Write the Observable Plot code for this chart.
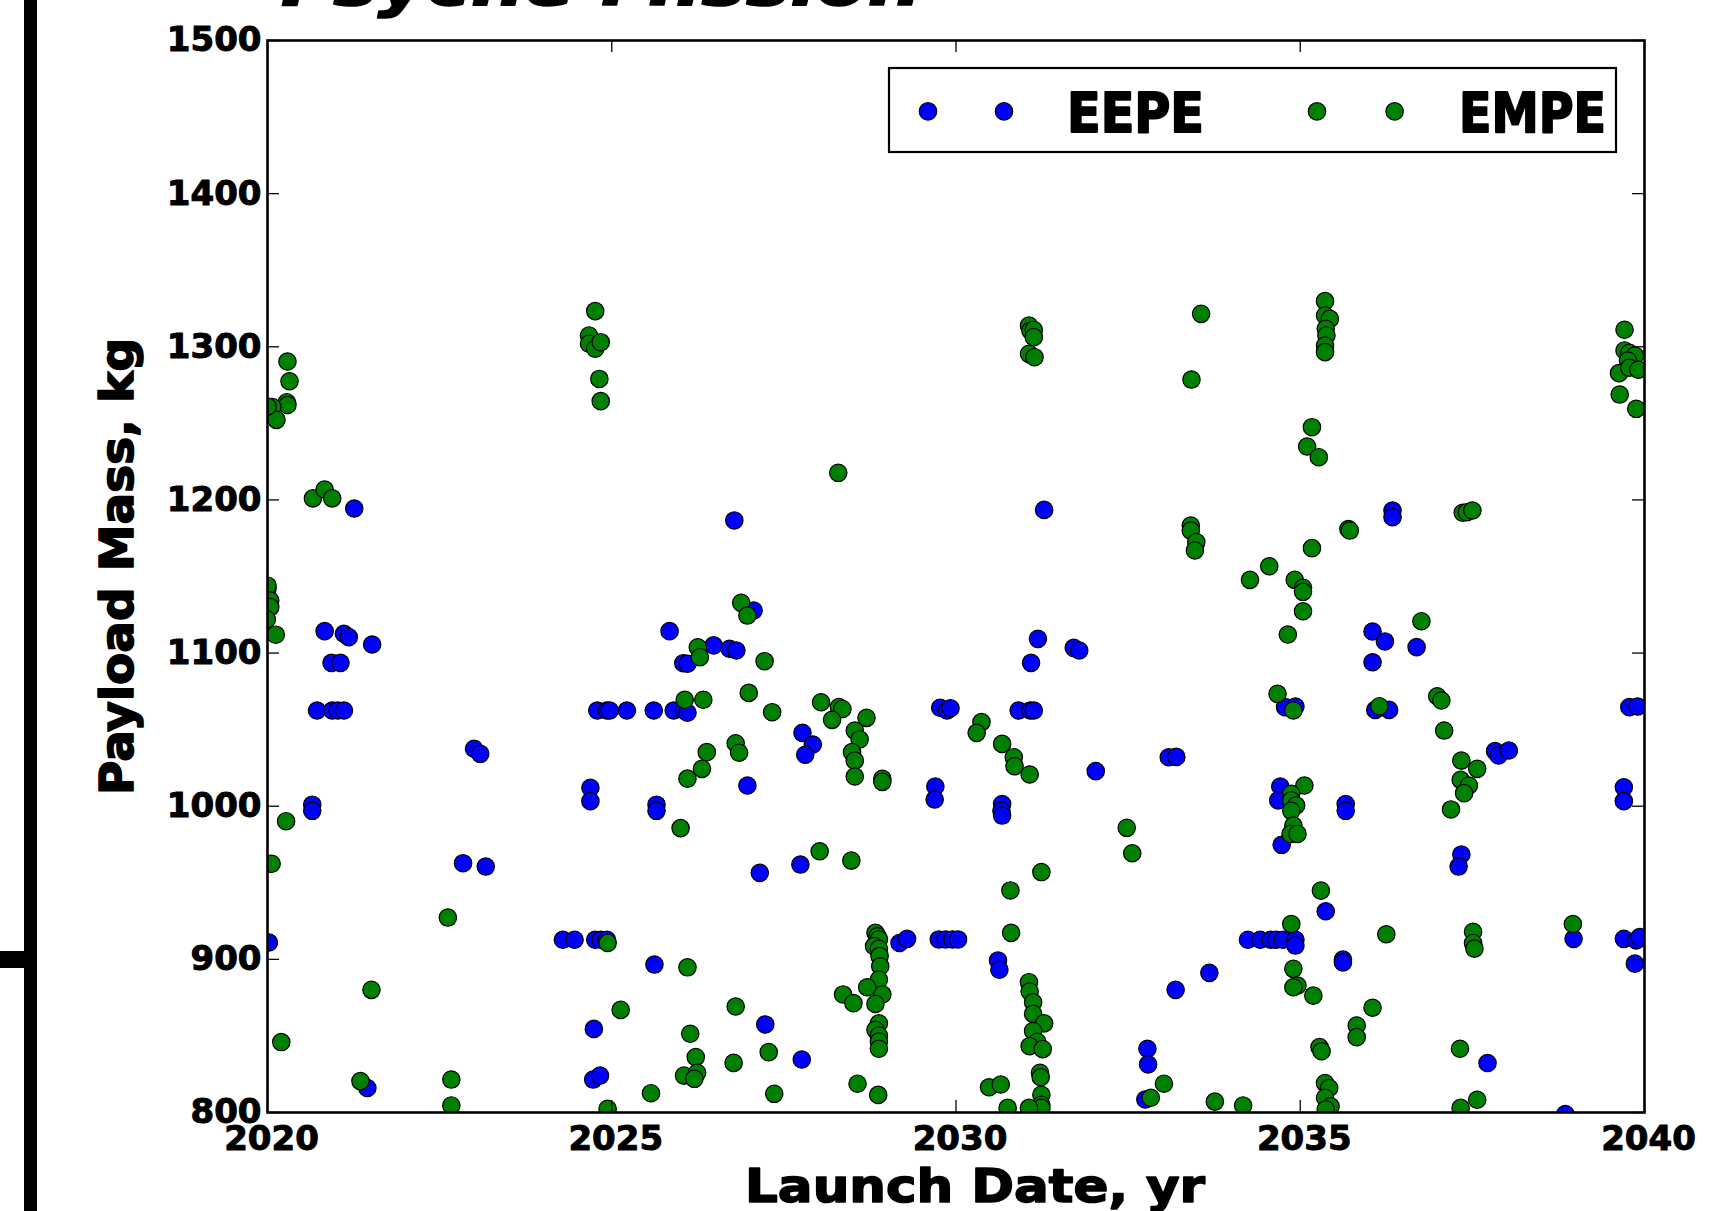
<!DOCTYPE html>
<html><head><meta charset="utf-8">
<script src="https://cdn.jsdelivr.net/npm/d3@7"></script>
<script src="https://cdn.jsdelivr.net/npm/@observablehq/plot@0.6"></script>
<style>
html,body{margin:0;padding:0;background:#fff;overflow:hidden}
#wrap{position:relative;width:1730px;height:1211px;overflow:hidden;background:#fff}
#wrap > svg{position:absolute;left:0;top:0}
</style></head><body><div id="wrap"></div>
<script>
// ---- data ----
const seriesNames = ["EEPE", "EMPE"];
const seriesColors = ["#0000ff", "#008000"];
const xTicks = [2020, 2025, 2030, 2035, 2040];
const yTicks = [800, 900, 1000, 1100, 1200, 1300, 1400, 1500];
const titleText = "Psyche Mission";
const xLabel = "Launch Date, yr";
const yLabel = "Payload Mass, kg";

const eepeYear = [
  2020.00, 2020.02, 2020.65, 2020.65, 2020.72, 2020.94, 2021.02, 2021.11, 2020.83, 2021.11, 2021.18, 2021.52,
  2020.93, 2021.06, 2021.26, 2021.45, 2022.84, 2023.17, 2023.00, 2023.09,
  2024.29, 2024.46, 2024.76, 2024.84, 2024.93, 2024.69, 2024.69, 2024.74, 2024.73, 2024.83,
  2024.79, 2024.93, 2024.97, 2025.22, 2025.61, 2025.90, 2026.05, 2026.10,
  2025.65, 2025.65, 2025.62, 2025.84, 2026.04, 2026.10, 2026.48, 2026.71, 2026.81, 2026.78, 2027.06, 2026.97,
  2027.15, 2027.23, 2027.77, 2027.92, 2027.81, 2027.74, 2027.76, 2029.18, 2029.29,
  2029.75, 2029.85, 2029.95, 2030.03, 2029.70, 2029.69, 2029.77, 2029.87, 2029.92,
  2030.61, 2030.63, 2030.67, 2030.66, 2030.67, 2030.91, 2031.08, 2031.13, 2031.09, 2031.19, 2031.28,
  2031.71, 2031.79, 2032.03, 2033.09, 2033.20, 2032.78, 2032.79, 2032.75, 2033.19, 2033.68,
  2034.24, 2034.42, 2034.57, 2034.65, 2034.75, 2034.93, 2034.93, 2034.71, 2034.68, 2034.73, 2034.78, 2034.93,
  2035.37, 2035.62, 2035.62, 2035.66, 2035.66, 2036.05, 2036.23, 2036.05, 2036.09, 2036.29, 2036.34, 2036.34, 2036.69,
  2037.34, 2037.30, 2037.83, 2037.88, 2038.03, 2037.72, 2038.97, 2038.85,
  2039.70, 2039.70, 2039.78, 2039.90, 2039.70, 2039.88, 2039.93, 2039.86
];
const eepeMass = [
  1142, 911, 1001, 997, 1062.5, 1062.5, 1062.5, 1062.5, 1114.3, 1112.6, 1110.4, 1105.6,
  1093.6, 1093.6, 1194.4, 816, 962.8, 960.6, 1037.5, 1034.2,
  912.8, 912.8, 912.8, 912.8, 912.8, 1012, 1003.3, 854.6, 821.5, 824.1,
  1062.5, 1062.5, 1062.5, 1062.5, 1062.5, 1062.5, 1062.5, 1061,
  1001, 997, 896.6, 1114.3, 1093.4, 1093, 1105, 1102.8, 1101.7, 1186.6, 1127.8, 1013.5,
  956.5, 857.5, 1047.9, 1040.3, 1033.6, 961.9, 834.6, 910.7, 913.4,
  913, 913, 913, 913, 1012.9, 1004.4, 1064.3, 1062.5, 1064,
  899.3, 893.2, 1001.4, 997, 993.9, 1062.5, 1062.5, 1062.5, 1093.6, 1109.3, 1193.5,
  1103.4, 1101.7, 1022.9, 1032, 1032.2, 841.6, 831.4, 808.5, 880.1, 891.2,
  912.8, 912.8, 912.8, 912.8, 912.8, 912.8, 909, 1012.9, 1003.8, 974.8, 1064.7, 1065.1,
  931.4, 899.8, 898, 1001.4, 997, 1114.1, 1107.6, 1094, 1062.9, 1062.9, 1193.1, 1188.7, 1103.9,
  968.5, 960.6, 1036, 1033.1, 1036.4, 832.3, 913.4, 799,
  1012.4, 1003.3, 1064.7, 1065.1, 913.4, 912.3, 914.5, 897.2
];

const empeYear = [
  2020.29, 2020.32, 2020.28, 2020.29, 2020.07, 2020.13, 2020.00,
  2020.66, 2020.83, 2020.94,
  2020.00, 2020.04, 2020.04, 2020.12, 2019.99,
  2020.27, 2020.06, 2020.20, 2021.51, 2021.35,
  2022.62, 2022.67, 2022.67,
  2024.76, 2024.67, 2024.67, 2024.76, 2024.84, 2024.82, 2024.84,
  2024.94, 2024.94, 2025.13, 2025.57, 2026.00,
  2026.06, 2026.33, 2026.25, 2026.28,
  2026.38, 2026.31, 2026.10,
  2026.10, 2026.14, 2026.22, 2026.05, 2026.24, 2026.20,
  2026.80, 2026.85, 2026.88, 2026.97, 2027.22, 2026.99, 2027.33,
  2026.80, 2026.77, 2027.28, 2027.36,
  2028.04, 2028.30, 2028.35, 2028.20, 2028.70,
  2028.53, 2028.60, 2028.49, 2028.53, 2028.53, 2028.93, 2028.93,
  2028.29, 2028.02, 2028.48, 2028.36, 2028.51,
  2028.83, 2028.86, 2028.88, 2028.81, 2028.88, 2028.89, 2028.90, 2028.88, 2028.93, 2028.71, 2028.83, 2028.88, 2028.83, 2028.88, 2028.88, 2028.88,
  2028.57, 2028.87,
  2030.37, 2030.30, 2030.67, 2030.84, 2030.85, 2031.07,
  2031.06, 2031.08, 2031.13, 2031.13, 2031.06, 2031.14,
  2031.24, 2030.79, 2030.80,
  2031.06, 2031.07, 2031.12, 2031.12, 2031.28, 2031.12, 2031.18, 2031.07, 2031.26, 2031.22, 2031.23, 2031.24, 2031.24, 2031.24, 2031.06, 2030.75,
  2030.48, 2030.65, 2032.48, 2032.56, 2033.02, 2032.83,
  2033.56, 2033.42, 2033.41, 2033.41, 2033.49, 2033.47, 2033.76, 2034.17,
  2035.36, 2035.36, 2035.43, 2035.37, 2035.38, 2035.36, 2035.36,
  2035.17, 2035.10, 2035.27, 2035.70, 2035.72, 2035.17,
  2034.55, 2034.27, 2034.92, 2035.04, 2035.04, 2035.04, 2034.82, 2036.76,
  2037.36, 2037.42, 2037.50, 2034.67, 2034.90, 2036.15, 2036.99, 2037.05, 2037.09,
  2037.34, 2037.57, 2037.33, 2037.45, 2037.38, 2037.19,
  2035.06, 2034.87, 2034.87, 2034.94, 2034.87, 2034.90, 2034.86, 2034.96,
  2035.30, 2034.87, 2036.25, 2037.51, 2037.51, 2037.53, 2038.96,
  2034.90, 2034.96, 2034.90, 2035.19, 2036.05, 2035.82, 2035.82, 2035.28, 2035.31, 2037.32,
  2035.36, 2035.42, 2035.36, 2035.44, 2035.37, 2037.57, 2037.33,
  2039.71, 2039.71, 2039.78, 2039.86, 2039.76, 2039.63, 2039.78, 2039.91, 2039.64, 2039.88
];
const empeMass = [
  1290.4, 1277.5, 1263.8, 1262, 1260.6, 1252.3, 1261,
  1201, 1206.8, 1201,
  1144, 1134.3, 1130, 1112, 1122,
  990.2, 962.4, 846, 880.1, 820.5,
  927.3, 821.5, 804.6,
  1323.3, 1307.4, 1302, 1298.7, 1303, 1279, 1264.5,
  910.7, 802.4, 867, 812.6, 985.7,
  1069.5, 1069.5, 1103.8, 1097.3,
  1035.3, 1024.4, 1018,
  894.8, 851.4, 836.2, 824.1, 825.9, 822,
  1041.1, 1034.9, 1132.8, 1124.5, 1094.7, 1074, 1061.4,
  869.2, 832.4, 839.4, 812.2,
  1067.9, 1064.7, 1063.5, 1056.4, 1057.7,
  1049.4, 1043.6, 1035.3, 1029.8, 1019.4, 1017.9, 1015.9,
  1217.7, 970.6, 964.5, 877.1, 871.4,
  917.3, 915.1, 913, 908.6, 906.9, 902.1, 895.5, 886.8, 877.1, 881.8, 870.9, 858.2, 854, 850.3, 846.3, 841.6,
  818.8, 811.5,
  1054.9, 1047.9, 1040.7, 1032, 1026.1, 1020.7,
  1313.9, 1310.6, 1311, 1306.3, 1295.4, 1293.2,
  957, 945, 917.3,
  885.1, 879, 872, 864.4, 858.2, 853.2, 846.2, 843.3, 841.4, 825.9, 823, 811.6, 805, 803, 803, 803,
  816.5, 818.3, 985.9, 969.3, 818.8, 809.6,
  1321.5, 1278.6, 1183.3, 1180, 1172.4, 1167, 807.1, 804.6,
  1329.8, 1320.4, 1318.2, 1311.7, 1307.4, 1300.8, 1296.5,
  1247.5, 1234.9, 1227.9, 1181, 1180, 1168.5,
  1156.7, 1147.8, 1147.8, 1142.6, 1140, 1127.3, 1112.1, 1120.8,
  1191.6, 1192, 1193.1, 1073.4, 1062.5, 1065.3, 1071.8, 1069, 1049.4,
  1029.8, 1024.4, 1017.2, 1013.5, 1008.5, 997.9,
  1013.5, 1008.1, 1003.8, 1000.5, 997, 987.4, 981.9, 981.9,
  944.9, 923.1, 916.4, 918, 910.7, 907, 923.1,
  893.8, 882.9, 881.8, 876.3, 868.4, 856.8, 849.2, 842.7, 840, 841.6,
  819.2, 816, 809.6, 804, 802, 808.3, 803,
  1311.1, 1297.6, 1296, 1294.3, 1291, 1282.8, 1286.3, 1285, 1268.8, 1259.5
];

// ---- build table ----
const eepe = eepeYear.map((x, i) => ({year: x, mass: eepeMass[i], series: seriesNames[0]}));
const empe = empeYear.map((x, i) => ({year: x, mass: empeMass[i], series: seriesNames[1]}));

const W = 1730, H = 1211;
const mL = 267, mR = 86, mT = 40, mB = 99;
const innerW = W - mL - mR, innerH = H - mT - mB;
const tickLen = 12;

const chart = Plot.plot({
  width: W, height: H,
  marginLeft: mL, marginRight: mR, marginTop: mT, marginBottom: mB,
  style: {fontFamily: "'DejaVu Sans', sans-serif", fontWeight: "bold", fontSize: "34px", color: "#000", background: "transparent", overflow: "visible"},
  x: {domain: [2020, 2040], label: null},
  y: {domain: [800, 1500], label: null},
  color: {domain: seriesNames, range: seriesColors},
  marks: [
    Plot.dot(eepe, {x: "year", y: "mass", r: 8.7, fill: "series", stroke: "#000", strokeWidth: 1.2, clip: true}),
    Plot.dot(empe, {x: "year", y: "mass", r: 8.7, fill: "series", stroke: "#000", strokeWidth: 1.2, clip: true}),
    Plot.ruleX(xTicks, {x: d => d, insetBottom: innerH - tickLen, stroke: "#000", strokeWidth: 1.3}),
    Plot.ruleX(xTicks, {x: d => d, insetTop: innerH - tickLen, stroke: "#000", strokeWidth: 1.3}),
    Plot.ruleY(yTicks, {y: d => d, insetRight: innerW - tickLen, stroke: "#000", strokeWidth: 1.3}),
    Plot.ruleY(yTicks, {y: d => d, insetLeft: innerW - tickLen, stroke: "#000", strokeWidth: 1.3}),
    Plot.frame({stroke: "#000", strokeWidth: 2.6}),
    Plot.axisX({ticks: xTicks, tickSize: 0, tickPadding: 13, tickFormat: d => String(d), label: null, dx: 4}),
    Plot.axisY({ticks: yTicks, tickSize: 0, tickPadding: 6, tickFormat: d => String(d), label: null})
  ]
});
// make the tick labels a little heavier, like the reference
chart.querySelectorAll("g[aria-label$='tick label'] text").forEach(t => {
  t.setAttribute("stroke", "#000");
  t.setAttribute("stroke-width", "1");
  t.setAttribute("stroke-linejoin", "round");
});
const wrap = document.getElementById("wrap");
wrap.appendChild(chart);

// ---- overlay: title, axis labels, legend, neighbour border fragments ----
const ns = "http://www.w3.org/2000/svg";
const ov = document.createElementNS(ns, "svg");
ov.setAttribute("width", W); ov.setAttribute("height", H);
ov.style.pointerEvents = "none";
function el(tag, attrs, text) {
  const e = document.createElementNS(ns, tag);
  for (const k in attrs) e.setAttribute(k, attrs[k]);
  if (text != null) e.textContent = text;
  ov.appendChild(e);
  return e;
}
const font = "DejaVu Sans, sans-serif";
const heavy = {stroke: "#000", "stroke-width": 1.6, "stroke-linejoin": "round"};
// neighbouring panel border fragments
el("rect", {x: 24, y: 0, width: 13, height: H, fill: "#000"});
el("rect", {x: 0, y: 951, width: 24, height: 17, fill: "#000"});
// title (cut off at the top)
el("text", {x: 281, y: 5, "font-family": font, "font-weight": "bold", "font-style": "italic", "font-size": 60, textLength: 640, lengthAdjust: "spacingAndGlyphs", ...heavy}, titleText);
// axis labels
el("text", {x: 975, y: 1201.5, "text-anchor": "middle", "font-family": font, "font-weight": "bold", "font-size": 47, textLength: 460, lengthAdjust: "spacingAndGlyphs", ...heavy}, xLabel);
el("text", {transform: "translate(133,566.5) rotate(-90)", "text-anchor": "middle", "font-family": font, "font-weight": "bold", "font-size": 46, textLength: 457, lengthAdjust: "spacingAndGlyphs", ...heavy}, yLabel);
// legend
el("rect", {x: 889, y: 68, width: 727, height: 84, fill: "#fff", stroke: "#000", "stroke-width": 2.2});
const legendMarkers = [[928, 1004], [1317, 1394.6]];
const legendTextX = [1067, 1459];
const legendTextW = [137, 147];
seriesNames.forEach((name, i) => {
  legendMarkers[i].forEach(cx => el("circle", {cx, cy: 111.4, r: 8.7, fill: seriesColors[i], stroke: "#000", "stroke-width": 1.2}));
  el("text", {x: legendTextX[i], y: 131.5, "font-family": font, "font-weight": "bold", "font-size": 55, textLength: legendTextW[i], lengthAdjust: "spacingAndGlyphs", ...heavy, "stroke-width": 2}, name);
});
wrap.appendChild(ov);
</script>
</body></html>
